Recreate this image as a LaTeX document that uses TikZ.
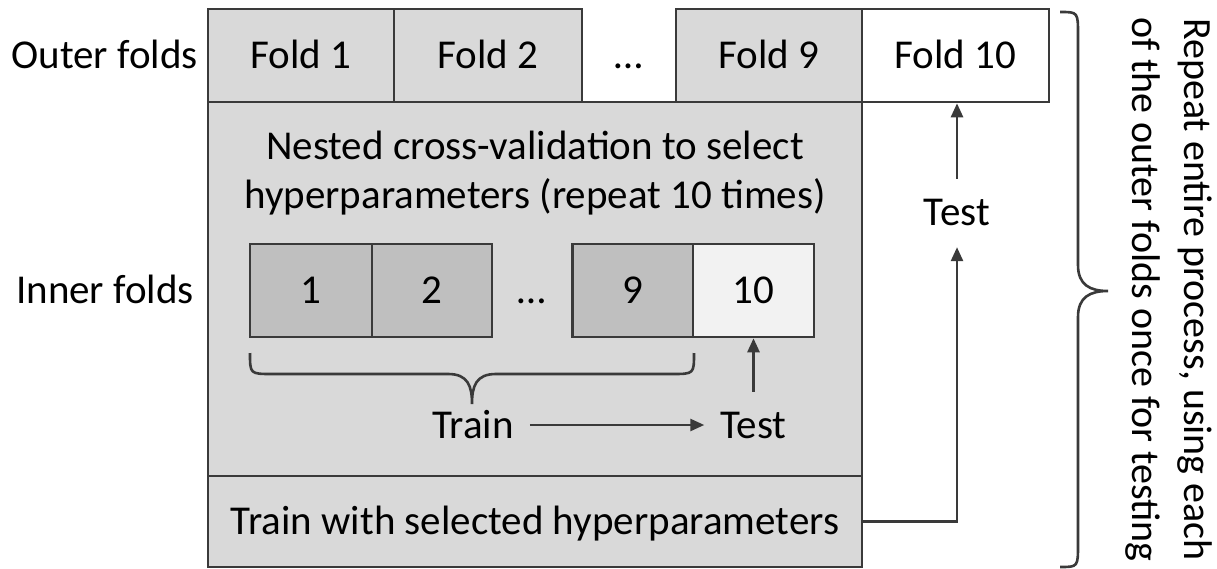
\documentclass[tikz,border=0pt]{standalone}
\usepackage{fontspec}
\setmainfont{Carlito}
\usepackage{xcolor}
\usetikzlibrary{arrows.meta}

\definecolor{lightgrey}{HTML}{D9D9D9}
\definecolor{midgrey}{HTML}{BFBFBF}
\definecolor{palegrey}{HTML}{F2F2F2}
\definecolor{edgegrey}{HTML}{3A3A3A}

\begin{document}
\begin{tikzpicture}[x=1pt, y=-1pt,
  every node/.style={font=\fontsize{41}{49}\selectfont, inner sep=0pt, text height=26pt, text depth=0pt},
  box/.style={draw=edgegrey, line width=2.6pt, fill=lightgrey, minimum height=93pt},
  lbl/.style={inner xsep=16pt, inner ysep=20pt},
  arr/.style={draw=edgegrey, line width=2.6pt, -{Triangle[length=14pt,width=12pt]}},
  brace/.style={draw=edgegrey, line width=2.6pt}]
\useasboundingbox (0,0) rectangle (1217,569);

% row labels
\node (outer) at (104.5,55.5) {Outer folds};
\node (inner) at (105,290.5) {Inner folds};

% grey panel for the inner loop and the retraining strip under it
\node[box, minimum width=654pt, minimum height=374pt] (cv) at (535,289) {};
\node[box, minimum width=654pt, minimum height=91pt] (trainsel) at (535,521.5) {Train with selected hyperparameters};
\node[align=center, text height={}, text depth={}] (nested) at (535,173) {Nested cross-validation to select\\hyperparameters (repeat 10 times)};

% outer folds
\node[box, minimum width=186pt] (f1) at (301,55.5) {Fold 1};
\node[box, minimum width=188pt] (f2) at (488,55.5) {Fold 2};
\node (fdots) at (629,55.5) {…};
\node[box, minimum width=186pt] (f9) at (769,55.5) {Fold 9};
\node[box, minimum width=187pt, fill=white] (f10) at (955.5,55.5) {Fold 10};

% inner folds
\node[box, fill=midgrey, minimum width=122pt] (i1) at (311,290.5) {1};
\node[box, fill=midgrey, minimum width=120pt] (i2) at (432,290.5) {2};
\node (idots) at (532,290.5) {…};
\node[box, fill=midgrey, minimum width=120.5pt] (i9) at (632.75,290.5) {9};
\node[box, fill=palegrey, minimum width=121pt] (i10) at (753.5,290.5) {10};

\draw[brace] (250,353) .. controls (250,374) .. (272,374) -- (448,374)
  .. controls (468,374) and (472,386) .. (472,404)
  .. controls (472,386) and (476,374) .. (496,374) -- (672,374)
  .. controls (694,374) .. (694,353);

\node[lbl] (train) at (473,425) {Train};
\node[lbl] (test) at (753.5,425) {Test};
\draw[arr] (train) -- (test);
\draw[arr] (test) -- (i10);

% outer test
\node[lbl, inner ysep=21pt] (outtest) at (957,213) {Test};
\draw[arr] (outtest.north) -- (outtest.north |- f10.south);
\draw[arr] (trainsel.east) -| (outtest.south);

% brace and note on the right
\draw[brace] (1060,12) .. controls (1078,12) .. (1078,35) -- (1078,265)
  .. controls (1078,285) and (1090,291) .. (1108,291)
  .. controls (1090,291) and (1078,297) .. (1078,317) -- (1078,544)
  .. controls (1078,567) .. (1060,567);
\node[rotate=-90, align=center, text height={}, text depth={}, font=\fontsize{40}{52}\selectfont] (repeat) at (1169,289.5) {Repeat entire process, using each\\of the outer folds once for testing};
\end{tikzpicture}
\end{document}
